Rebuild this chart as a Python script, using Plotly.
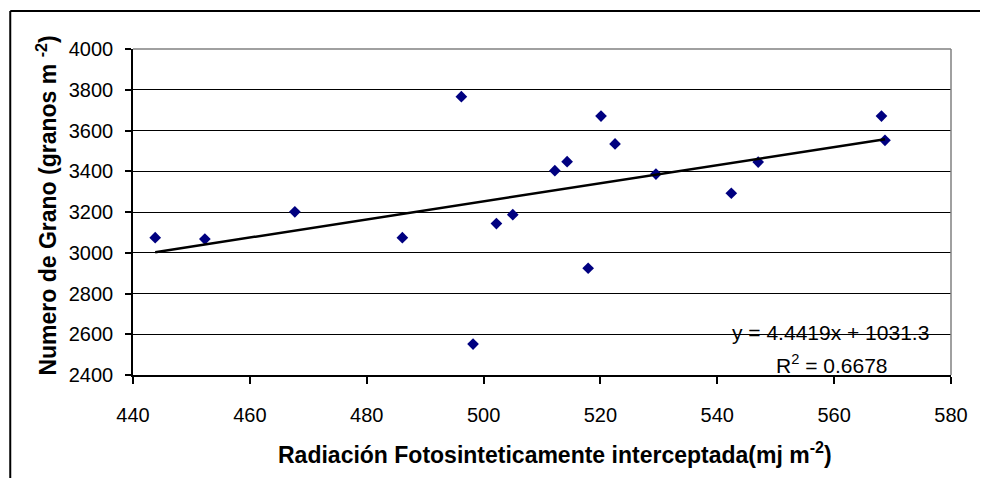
import plotly.graph_objects as go

# Data
radiacion = [443.8, 452.3, 467.7, 486.1, 496.2, 498.2, 502.2, 505.0, 512.2,
             514.3, 517.9, 520.1, 522.5, 529.5, 542.4, 547.0, 568.1, 568.7]
granos = [3074, 3067, 3201, 3074, 3766, 2552, 3143, 3187, 3403,
          3447, 2924, 3671, 3534, 3386, 3292, 3445, 3671, 3552]

# Trendline from the chart's equation
slope = 4.4419
intercept = 1031.3
r2 = 0.6678

x_ticks = [440, 460, 480, 500, 520, 540, 560, 580]
y_ticks = [2400, 2600, 2800, 3000, 3200, 3400, 3600, 3800, 4000]

FONT = "Liberation Sans, Arial, sans-serif"

trend_x = [min(radiacion), max(radiacion)]
trend_y = [slope * v + intercept for v in trend_x]

fig = go.Figure()
fig.add_trace(go.Scatter(
    x=radiacion, y=granos, mode="markers",
    marker=dict(symbol="diamond", size=9, color="#000080", line=dict(width=0)),
    showlegend=False, cliponaxis=False))
fig.add_trace(go.Scatter(
    x=trend_x, y=trend_y, mode="lines",
    line=dict(color="black", width=2.5), showlegend=False))

# page keeps its default 8px body margin; figure fills exactly the rest of the window
OFF = 8
W, H = 988 - 2 * OFF, 486 - 2 * OFF
L, T = 133 - OFF, 49 - OFF
PW, PH = 833, 326
R, B = W - L - PW, H - T - PH

def px_x(p):  # page pixel -> paper x
    return (p - OFF - L) / PW

def px_y(p):  # page pixel -> paper y
    return (T + PH - (p - OFF)) / PH

fig.update_layout(
    width=W, height=H,
    margin=dict(l=L, r=R, t=T, b=B),
    paper_bgcolor="white", plot_bgcolor="white",
    font=dict(family=FONT, size=20, color="black"),
    xaxis=dict(range=[440, 580], tickvals=x_ticks, ticktext=[str(v) for v in x_ticks],
               showgrid=False, zeroline=False, showline=True, linecolor="black",
               linewidth=1.5, ticks="outside", ticklen=7, tickcolor="black",
               tickwidth=1.5, ticklabelstandoff=14, ticklabeloverflow="allow",
               tickfont=dict(size=20)),
    yaxis=dict(range=[2400, 4000], tickvals=y_ticks, ticktext=[str(v) for v in y_ticks],
               showgrid=True, gridcolor="black", gridwidth=1, zeroline=False,
               showline=True, linecolor="black", linewidth=1.5, ticks="outside",
               ticklen=6, tickcolor="black", tickwidth=1.5, ticklabelstandoff=8,
               tickfont=dict(size=20)),
    shapes=[
        dict(type="line", xref="paper", yref="paper", x0=0, x1=1, y0=1, y1=1,
             line=dict(color="#808080", width=1.5)),
        dict(type="line", xref="paper", yref="paper", x0=1, x1=1, y0=0, y1=1,
             line=dict(color="#808080", width=1.5)),
        # outer chart frame: left and top edges visible
        dict(type="line", xref="paper", yref="paper",
             x0=px_x(8), x1=px_x(8), y0=px_y(11), y1=px_y(500),
             line=dict(color="black", width=2), layer="below"),
        dict(type="line", xref="paper", yref="paper",
             x0=px_x(8), x1=px_x(1000), y0=px_y(11), y1=px_y(11),
             line=dict(color="black", width=2), layer="below"),
    ],
    annotations=[
        dict(text="<b>Radiación Fotosinteticamente interceptada(mj m<sup>-2</sup>)</b>",
             xref="paper", yref="paper", x=px_x(563), y=px_y(453),
             xanchor="center", yanchor="middle", showarrow=False,
             font=dict(size=23, family=FONT, color="black")),
        dict(text="<b>Numero de Grano (granos m <sup>-2</sup>)</b>",
             xref="paper", yref="paper", x=px_x(45), y=px_y(206),
             xanchor="center", yanchor="middle", showarrow=False, textangle=-90,
             font=dict(size=23, family=FONT, color="black")),
        dict(text=f"y = {slope}x + {intercept}",
             xref="paper", yref="paper", x=px_x(843), y=px_y(332),
             xanchor="center", yanchor="middle", showarrow=False,
             font=dict(size=21, family=FONT, color="black")),
        dict(text=f"R<sup>2</sup> = {r2}",
             xref="paper", yref="paper", x=px_x(845), y=px_y(364),
             xanchor="center", yanchor="middle", showarrow=False,
             font=dict(size=21, family=FONT, color="black")),
    ],
)

fig.write_html("out.html", config={"displayModeBar": False})
